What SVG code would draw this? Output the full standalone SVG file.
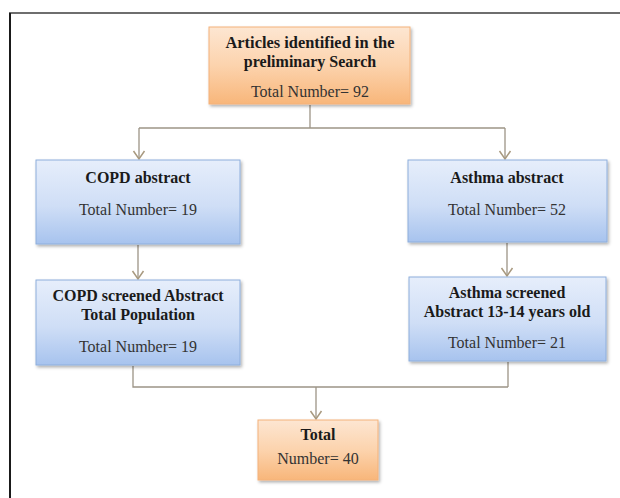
<svg xmlns="http://www.w3.org/2000/svg" width="620" height="498" viewBox="0 0 620 498">
<defs>
<linearGradient id="gOr" x1="0" y1="0" x2="0" y2="1">
<stop offset="0" stop-color="#fde6d2"/>
<stop offset="0.5" stop-color="#fcd3ad"/>
<stop offset="1" stop-color="#f8b67a"/>
</linearGradient>
<linearGradient id="gBl" x1="0" y1="0" x2="0" y2="1">
<stop offset="0" stop-color="#e6eefb"/>
<stop offset="0.55" stop-color="#cfdef6"/>
<stop offset="1" stop-color="#a7c3ee"/>
</linearGradient>
<filter id="sh" x="-10%" y="-10%" width="125%" height="130%">
<feDropShadow dx="1.5" dy="2" stdDeviation="1.5" flood-color="#000" flood-opacity="0.3"/>
</filter>
<marker id="arr" markerWidth="14" markerHeight="14" refX="12" refY="7" orient="auto" markerUnits="userSpaceOnUse" viewBox="0 0 14 14">
<path d="M4,1.5 L12,7 L4,12.5" fill="none" stroke="#a8997f" stroke-width="1.5"/>
</marker>
</defs>
<style>
.frame-top{stroke:#6e6e6e;stroke-width:2;fill:none}
.frame-left{stroke:#1a1a1a;stroke-width:2;fill:none}
.or{fill:url(#gOr);stroke:#f4b27a;stroke-width:1;filter:url(#sh)}
.bl{fill:url(#gBl);stroke:#8eaedc;stroke-width:1;filter:url(#sh)}
.c{fill:none;stroke:#9c9486;stroke-width:1.3}
.b{font-family:"Liberation Serif","Times New Roman",serif;font-weight:bold;font-size:16px;fill:#1a1a1a;text-anchor:middle}
.n{font-family:"Liberation Serif","Times New Roman",serif;font-size:16px;fill:#333;text-anchor:middle}
</style>
<rect x="0" y="0" width="620" height="498" fill="#ffffff"/>
<line class="frame-top" x1="9" y1="13" x2="620" y2="13"/>
<line class="frame-left" x1="10" y1="13" x2="10" y2="498"/>
<g id="connectors">
<polyline class="c" points="310,105 310,128"/>
<polyline class="c" points="139,128 505,128"/>
<line class="c" x1="139" y1="128" x2="139" y2="159" marker-end="url(#arr)"/>
<line class="c" x1="505" y1="128" x2="505" y2="159" marker-end="url(#arr)"/>
<line class="c" x1="138" y1="245" x2="138" y2="279" marker-end="url(#arr)"/>
<line class="c" x1="507" y1="243" x2="507" y2="276" marker-end="url(#arr)"/>
<polyline class="c" points="133,366 133,387 508,387"/>
<line class="c" x1="508" y1="362" x2="508" y2="387"/>
<line class="c" x1="316" y1="387" x2="316" y2="419" marker-end="url(#arr)"/>
</g>
<g id="n-articles">
<rect class="or" x="209" y="27" width="201" height="77"/>
<text class="b" x="310" y="48" textLength="169" lengthAdjust="spacingAndGlyphs">Articles identified in the</text>
<text class="b" x="310" y="67">preliminary Search</text>
<text class="n" x="310" y="97">Total Number= 92</text>
</g>
<g id="n-copd">
<rect class="bl" x="36" y="160" width="204" height="84"/>
<text class="b" x="138" y="183">COPD abstract</text>
<text class="n" x="138" y="215">Total Number= 19</text>
</g>
<g id="n-asthma">
<rect class="bl" x="408" y="160" width="199" height="82"/>
<text class="b" x="507" y="183">Asthma  abstract</text>
<text class="n" x="507" y="215">Total Number= 52</text>
</g>
<g id="n-copd-screened">
<rect class="bl" x="36" y="280" width="204" height="85"/>
<text class="b" x="138" y="301">COPD screened Abstract</text>
<text class="b" x="138" y="320">Total Population</text>
<text class="n" x="138" y="352">Total Number= 19</text>
</g>
<g id="n-asthma-screened">
<rect class="bl" x="409" y="277" width="197" height="84"/>
<text class="b" x="507" y="298">Asthma  screened</text>
<text class="b" x="507" y="317">Abstract  13-14 years old</text>
<text class="n" x="507" y="348">Total Number= 21</text>
</g>
<g id="n-total">
<rect class="or" x="258" y="420" width="120" height="60"/>
<text class="b" x="318" y="440">Total</text>
<text class="n" x="318" y="464">Number= 40</text>
</g>
</svg>
